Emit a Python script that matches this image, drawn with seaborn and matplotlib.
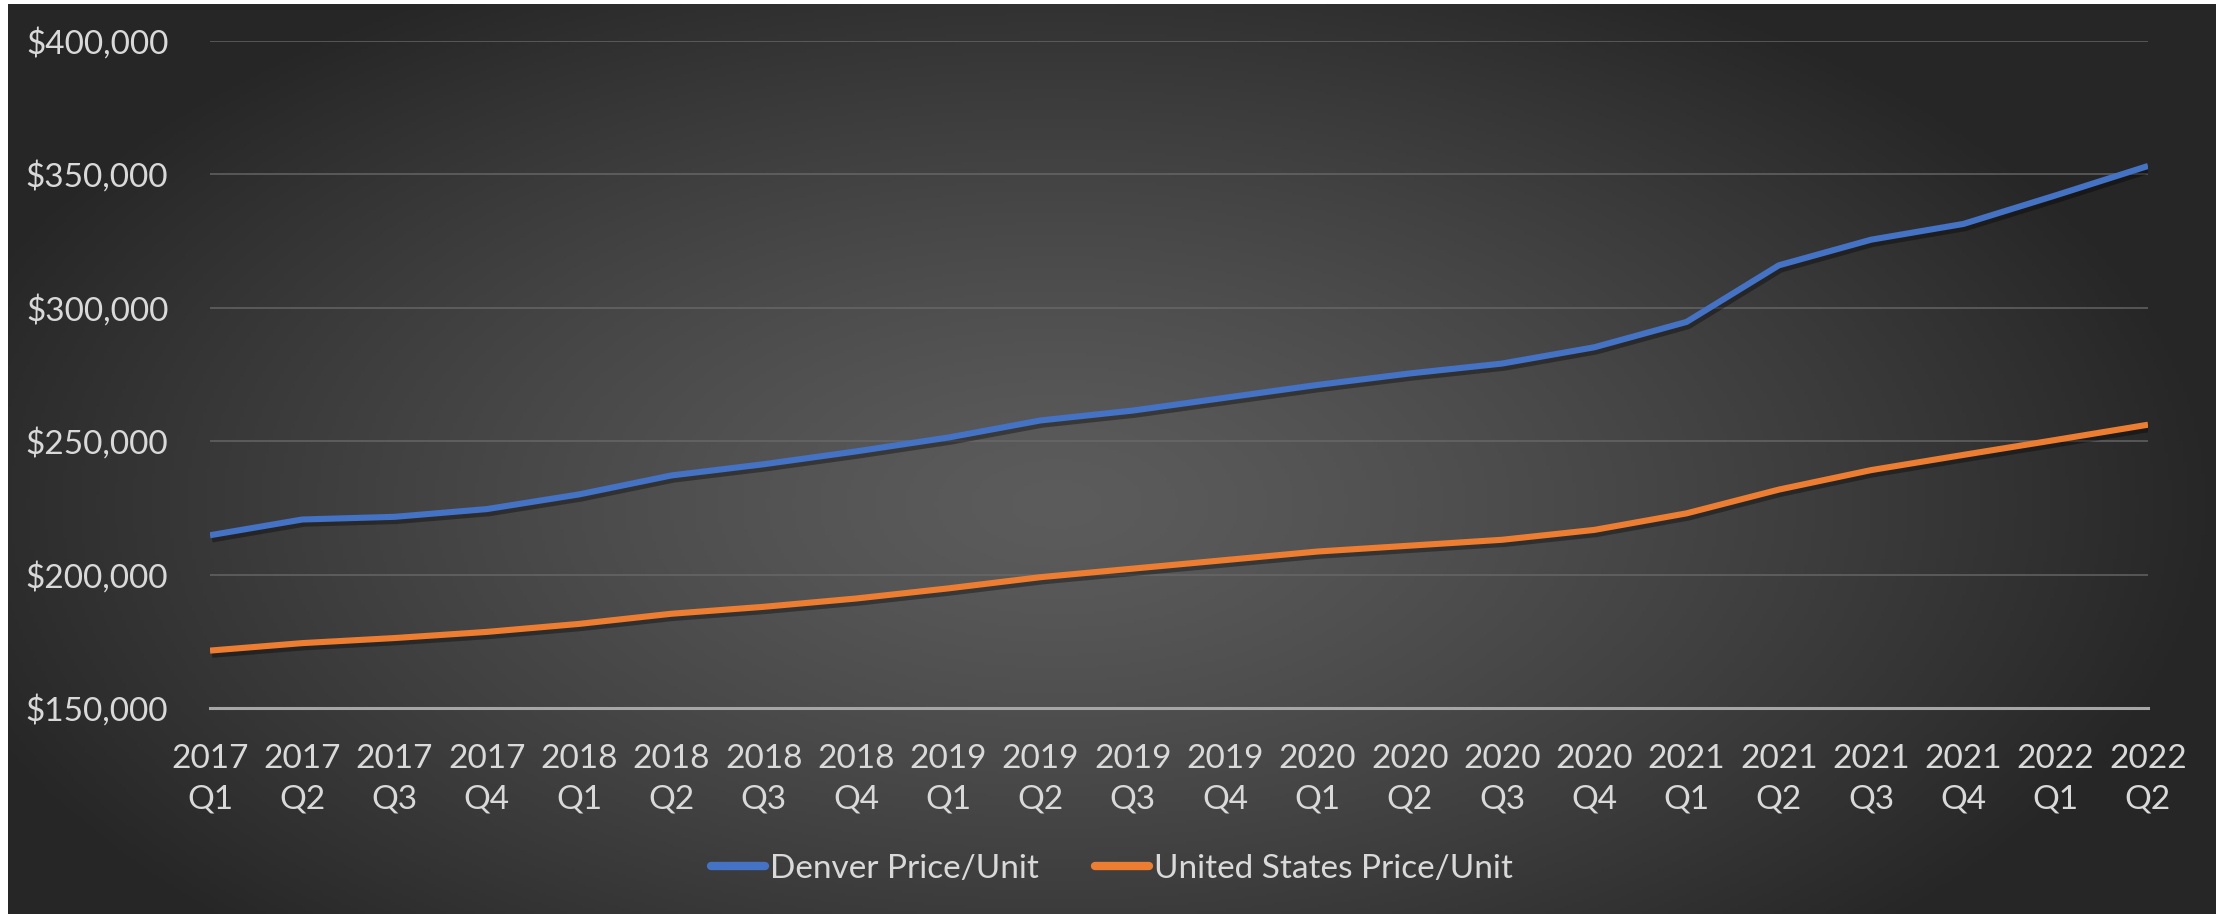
import numpy as np
import pandas as pd
import matplotlib
matplotlib.use("Agg")
import matplotlib.pyplot as plt
import matplotlib.patheffects as pe
from matplotlib.ticker import FuncFormatter
import seaborn as sns

# datos
quarters = ["2017\nQ1", "2017\nQ2", "2017\nQ3", "2017\nQ4",
            "2018\nQ1", "2018\nQ2", "2018\nQ3", "2018\nQ4",
            "2019\nQ1", "2019\nQ2", "2019\nQ3", "2019\nQ4",
            "2020\nQ1", "2020\nQ2", "2020\nQ3", "2020\nQ4",
            "2021\nQ1", "2021\nQ2", "2021\nQ3", "2021\nQ4",
            "2022\nQ1", "2022\nQ2"]
denver = [214700, 220600, 221600, 224500, 230000, 237100, 241300, 246100,
          251300, 257700, 261400, 266200, 271000, 275300, 279000, 285100,
          294600, 315800, 325400, 331300, 342000, 353000]
usa = [171500, 174300, 176200, 178500, 181500, 185300, 187900, 191000,
       194800, 199000, 202200, 205400, 208600, 210800, 213000, 216700,
       222900, 231800, 239100, 244800, 250400, 256100]
series_names = ["Denver Price/Unit", "United States Price/Unit"]

df = pd.DataFrame({
    "quarter": quarters * 2,
    "price": denver + usa,
    "serie": [series_names[0]] * len(quarters) + [series_names[1]] * len(quarters),
})

sns.set_style("dark")
plt.rcParams["font.family"] = ["Lato", "DejaVu Sans"]
txt = "#d9d9d9"
fs = 24

W, H = 2231, 914
fig = plt.figure(figsize=(W / 100, H / 100), dpi=100, facecolor="white")

# fondo con degradado radial
bg = fig.add_axes([8 / W, 0, (2216 - 8) / W, 910 / H])
gx, gy = np.meshgrid(np.linspace(-1, 1, 600), np.linspace(-1, 1, 300))
r = np.clip(np.sqrt(((gx + 0.05) * 0.95) ** 2 + ((gy - 0.1) * 0.75) ** 2), 0, 1)
shade = 0.36 - 0.21 * r ** 1.3
bg.imshow(np.dstack([shade] * 3), aspect="auto", extent=[0, 1, 0, 1])
bg.set_axis_off()

ax = fig.add_axes([210 / W, (H - 708) / H, (2148 - 210) / W, (708 - 40.5) / H])
ax.patch.set_alpha(0)

sns.lineplot(data=df, x="quarter", y="price", hue="serie", sort=False,
             palette=["#4472C4", "#ED7D31"], linewidth=4.4, ax=ax, legend=False)
for ln in ax.lines:
    ln.set_solid_capstyle("butt")
    ln.set_path_effects([pe.SimpleLineShadow(offset=(1.5, -3), shadow_color="black", alpha=0.35),
                         pe.Normal()])

ax.set_ylim(150000, 400000)
ax.set_yticks(range(150000, 400001, 50000))
ax.yaxis.set_major_formatter(FuncFormatter(lambda v, p: f"${v:,.0f}"))
ax.set_xlim(0, len(quarters) - 1)
ax.set_xlabel("")
ax.set_ylabel("")
ax.grid(axis="y", color="#6a6a6a", linewidth=1.4, alpha=0.7)
ax.grid(axis="x", visible=False)
for s in ["top", "right", "left"]:
    ax.spines[s].set_visible(False)
ax.spines["bottom"].set_color("#a6a6a6")
ax.spines["bottom"].set_linewidth(2.2)
ax.tick_params(axis="both", length=0, colors=txt, labelsize=fs)
ax.tick_params(axis="y", pad=30)
ax.tick_params(axis="x", pad=26)
for lab in ax.get_xticklabels():
    lab.set_linespacing(1.45)

handles = [plt.Line2D([], [], color=c, linewidth=6, solid_capstyle="round")
           for c in ["#4472C4", "#ED7D31"]]
fig.legend(handles, series_names, loc="center", bbox_to_anchor=(1112 / W, 1 - 869 / H),
           ncol=2, frameon=False, fontsize=fs, labelcolor=txt,
           handlelength=1.6, handletextpad=0.15, columnspacing=1.7)

fig.savefig("out.png", dpi=100, facecolor="white")
